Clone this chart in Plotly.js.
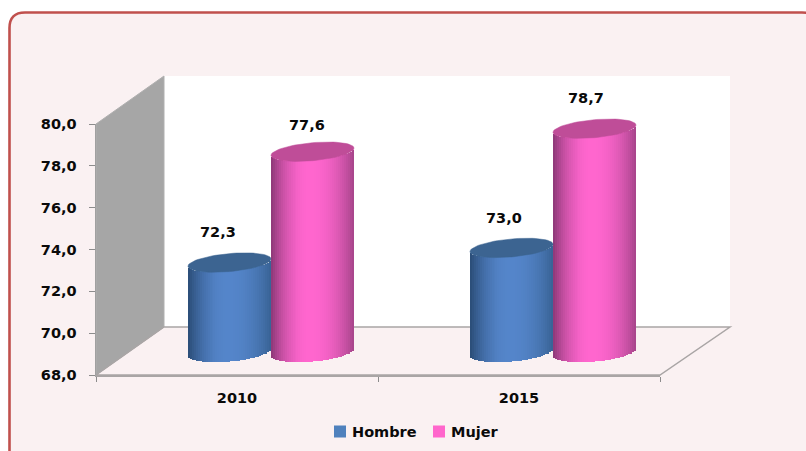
<!DOCTYPE html>
<html><head><meta charset="utf-8">
<script src="https://cdn.plot.ly/plotly-3.0.1.min.js"></script>
<style>html,body{margin:0;padding:0;background:#fff;overflow:hidden}#c{width:806px;height:451px}</style>
</head><body><div id="c"></div>
<script>
const categories = ['2010', '2015'];
const hombre = [72.3, 73.0];
const mujer = [77.6, 78.7];
const labelsHombre = ['72,3', '73,0'];
const labelsMujer = ['77,6', '78,7'];
const yTicks = [68, 70, 72, 74, 76, 78, 80];

const W = 806, H = 451;
const fx = p => p / W, fy = p => 1 - p / H;
const FONT = {family: '"DejaVu Sans", sans-serif', size: 14.5, color: '#0a0a0a', weight: 'bold'};

// front plane (real axes) and the depth-shifted plane the cylinders stand on
const front = {l: 96, r: 660, t: 124, b: 375};
const dx = 34, dy = 22.5;
const PXY = (front.b - front.t) / 12, PXX = (front.r - front.l) / 2;
const BASE = 68;
const RX = 41.5 / PXX, RY = 9 / PXY, SKEW = 3.6 / PXY;
const SLICES = 42;

function mix(a, b, t) { return a.map((v, i) => Math.round(v + (b[i] - v) * t)); }
function shade(u, pal) {
  const c = u < pal.mid ? Math.pow((pal.mid - u) / (1 + pal.mid), 2.1) : Math.pow((u - pal.mid) / (1 - pal.mid), 2.1);
  const col = mix(pal.center, u < pal.mid ? pal.left : pal.right, c);
  return `rgb(${col[0]},${col[1]},${col[2]})`;
}
const blue = {center: [84, 133, 202], left: [42, 76, 118], right: [56, 98, 148], mid: -0.02, cap: '#3C6491'};
const pink = {center: [255, 102, 206], left: [140, 56, 118], right: [166, 68, 138], mid: -0.05, cap: '#BF4D98'};

const traces = [];
// carrier of the front axes
traces.push({type: 'scatter', mode: 'none', x: categories, y: [BASE, BASE], xaxis: 'x', yaxis: 'y', showlegend: false, hoverinfo: 'skip'});

function cylinder(name, values, offset, pal, legendColor) {
  traces.push({type: 'bar', name, x: [0, 1], y: values.map(v => v - BASE), base: [BASE, BASE], width: RX * 1.6, offset: offset - RX * 0.8,
    xaxis: 'x2', yaxis: 'y2', marker: {color: legendColor, line: {width: 0}}, showlegend: true, hoverinfo: 'skip'});
  const sw = 2 * RX / SLICES;
  for (let i = 0; i < SLICES; i++) {
    const u = -1 + (i + 0.5) * 2 / SLICES;
    const e = Math.sqrt(Math.max(0, 1 - u * u));
    const bottoms = values.map(() => BASE + SKEW * u - RY * e);
    const tops = values.map(v => v + SKEW * u - RY * e);
    traces.push({type: 'bar', x: [0, 1], y: tops.map((t, k) => t - bottoms[k]), base: bottoms,
      width: sw * 1.25, offset: offset + u * RX - sw * 0.6, xaxis: 'x2', yaxis: 'y2',
      marker: {color: shade(u, pal), line: {width: 0}}, showlegend: false, hoverinfo: 'skip'});
  }
  values.forEach((v, k) => {
    const xs = [], ys = [];
    for (let a = 0; a <= 72; a++) {
      const th = a / 72 * 2 * Math.PI, cu = Math.cos(th), su = Math.sin(th);
      xs.push(k + offset + RX * cu);
      ys.push(v + SKEW * cu + RY * su);
    }
    traces.push({type: 'scatter', mode: 'lines', x: xs, y: ys, fill: 'toself', fillcolor: pal.cap, line: {color: pal.cap, width: 0.5},
      xaxis: 'x2', yaxis: 'y2', showlegend: false, hoverinfo: 'skip'});
  });
}
const OFF = 41.5 / PXX;
cylinder('Hombre', hombre, -OFF, blue, '#4F81BD');
cylinder('Mujer', mujer, OFF, pink, '#FF66CC');

const ann = (v, txt, k, off, xs, ys) => ({xref: 'x2', yref: 'y2', x: k + off, y: v, text: txt, showarrow: false, xshift: xs, yshift: ys, font: FONT});
const annotations = [
  ann(hombre[0], labelsHombre[0], 0, -OFF, -12, 31),
  ann(hombre[1], labelsHombre[1], 1, -OFF, -7.5, 30),
  ann(mujer[0], labelsMujer[0], 0, OFF, -6, 27),
  ann(mujer[1], labelsMujer[1], 1, OFF, -8.5, 31)
];

const poly = (pts) => 'M' + pts.map(p => fx(p[0]) + ',' + fy(p[1])).join('L') + 'Z';
const shapes = [
  {type: 'path', xref: 'paper', yref: 'paper', layer: 'below',
   path: `M${fx(9.5)},${fy(470)} L${fx(9.5)},${fy(441)} L${fx(9.5)},${fy(28)} Q${fx(9.5)},${fy(12.5)} ${fx(25)},${fy(12.5)} L${fx(802)},${fy(12.5)} Q${fx(818)},${fy(12.5)} ${fx(818)},${fy(28)} L${fx(818)},${fy(470)} Z`,
   fillcolor: '#FAF1F2', line: {color: '#C0504D', width: 2.6}},
  {type: 'path', xref: 'paper', yref: 'paper', layer: 'below', path: poly([[164, 76], [730, 76], [730, 327], [164, 327]]), fillcolor: '#FFFFFF', line: {width: 0}},
  {type: 'path', xref: 'paper', yref: 'paper', layer: 'below', path: poly([[96, 124], [164, 76], [164, 327], [96, 375]]), fillcolor: '#A6A6A6', line: {color: '#B0B0B0', width: 1}},
  {type: 'path', xref: 'paper', yref: 'paper', layer: 'below', path: poly([[96, 375], [164, 327], [730, 327], [660, 375]]), fillcolor: 'rgba(0,0,0,0)', line: {color: '#A9A5A5', width: 1.5}}
];

const layout = {
  width: W, height: H, margin: {l: 0, r: 0, t: 0, b: 0, pad: 0},
  paper_bgcolor: '#FFFFFF', plot_bgcolor: 'rgba(0,0,0,0)',
  separators: ',.', barmode: 'overlay', bargap: 0, font: FONT,
  xaxis: {domain: [fx(front.l), fx(front.r)], type: 'category', categoryorder: 'array', categoryarray: categories, range: [-0.5, 1.5],
    tickson: 'boundaries', ticks: 'outside', ticklen: 5, tickwidth: 1, tickcolor: '#8C8C8C', ticklabelstandoff: 9, showline: true, linecolor: '#A9A5A5', linewidth: 2,
    showgrid: false, zeroline: false, tickfont: FONT, anchor: 'y', fixedrange: true},
  yaxis: {domain: [fy(front.b), fy(front.t)], range: [68, 80], tickvals: yTicks, tickformat: '.1f', ticks: 'outside', ticklen: 6, tickwidth: 1, ticklabelstandoff: 9,
    tickcolor: '#8C8C8C', showline: true, linecolor: '#A0A0A0', linewidth: 1.5, showgrid: false, zeroline: false, tickfont: FONT, anchor: 'x', fixedrange: true},
  xaxis2: {domain: [fx(front.l + dx), fx(front.r + dx)], range: [-0.5, 1.5], visible: false, anchor: 'y2', fixedrange: true},
  yaxis2: {domain: [fy(front.b - dy + 2 * PXY), fy(front.t - dy - 2 * PXY)], range: [66, 82], visible: false, anchor: 'x2', fixedrange: true},
  legend: {orientation: 'h', x: fx(312), xanchor: 'left', y: fy(431.5), yanchor: 'middle', bgcolor: 'rgba(0,0,0,0)', font: FONT, itemclick: false, itemdoubleclick: false,
    entrywidth: 54, entrywidthmode: 'pixels', tracegroupgap: 0},
  annotations, shapes, hovermode: false
};
Plotly.newPlot('c', traces, layout, {displayModeBar: false, staticPlot: true}).then(() => {
  // the reference keeps its legend swatches close to the text
  document.querySelectorAll('.legend .legendsymbols').forEach(n => n.setAttribute('transform', 'translate(8,0)'));
});
</script></body></html>
